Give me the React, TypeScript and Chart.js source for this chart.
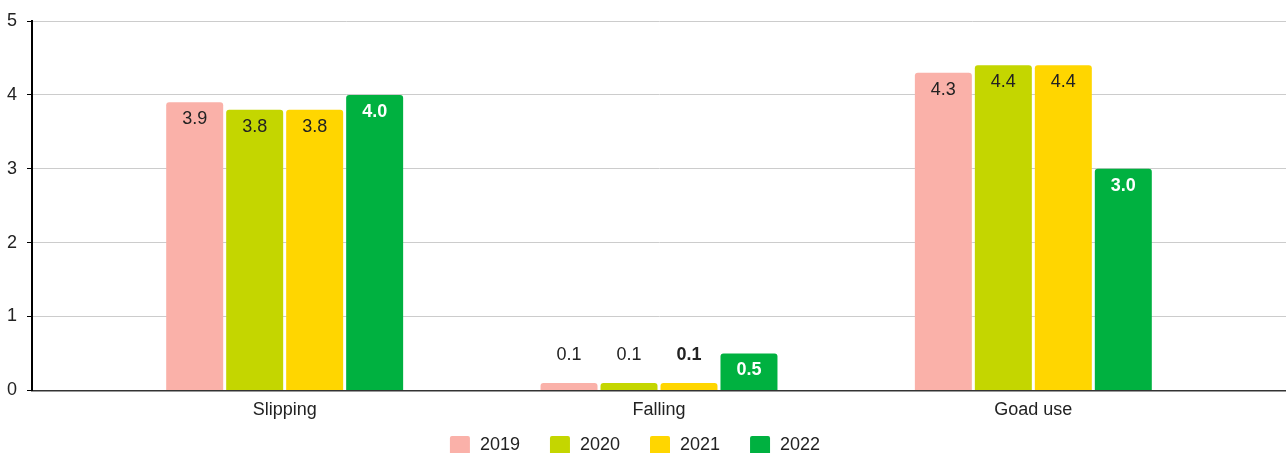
import { useEffect, useRef } from 'react';
import { Chart, registerables } from 'chart.js';

Chart.register(...registerables);

const CATEGORIES = ['Slipping', 'Falling', 'Goad use'];
const YEARS = ['2019', '2020', '2021', '2022'];
const VALUES_2019 = [3.9, 0.1, 4.3];
const VALUES_2020 = [3.8, 0.1, 4.4];
const VALUES_2021 = [3.8, 0.1, 4.4];
const VALUES_2022 = [4.0, 0.5, 3.0];
const Y_TICKS = [0, 1, 2, 3, 4, 5];

const SERIES = [VALUES_2019, VALUES_2020, VALUES_2021, VALUES_2022];
const COLORS = ['#FAB1A9', '#C4D600', '#FFD600', '#00B140'];
const LABEL_COLORS = ['#222222', '#222222', '#222222', '#ffffff'];
const LABEL_BOLD = [
  [false, false, false],
  [false, false, false],
  [false, true, false],
  [true, true, true],
];
const FONT = "'Liberation Sans', Arial, sans-serif";
const TEXT = '#222222';

const barLabels = {
  id: 'barLabels',
  afterDatasetsDraw(chart: any) {
    const ctx = chart.ctx;
    chart.data.datasets.forEach((ds: any, di: number) => {
      const meta = chart.getDatasetMeta(di);
      meta.data.forEach((bar: any, i: number) => {
        const v = ds.data[i] as number;
        const { x, y, base } = bar.getProps(['x', 'y', 'base'], true);
        const inside = base - y > 30;
        ctx.save();
        ctx.font = `${LABEL_BOLD[di][i] ? 'bold ' : ''}18px ${FONT}`;
        ctx.fillStyle = inside ? LABEL_COLORS[di] : TEXT;
        ctx.textAlign = 'center';
        ctx.textBaseline = 'middle';
        ctx.fillText(v.toFixed(1), x, inside ? y + 17 : y - 28);
        ctx.restore();
      });
    });
  },
};

const customLegend = {
  id: 'customLegend',
  afterDraw(chart: any) {
    const ctx = chart.ctx;
    ctx.save();
    ctx.font = `18px ${FONT}`;
    const box = 20;
    const gap = 10;
    const spacing = 30;
    const widths = YEARS.map((t) => box + gap + ctx.measureText(t).width);
    const total = widths.reduce((a, b) => a + b, 0) + spacing * (YEARS.length - 1);
    let x = chart.width / 2 - total / 2 - 8;
    const top = chart.height - 17;
    YEARS.forEach((t, i) => {
      ctx.fillStyle = COLORS[i];
      ctx.beginPath();
      ctx.roundRect(x, top, box, box, 2);
      ctx.fill();
      ctx.fillStyle = TEXT;
      ctx.textAlign = 'left';
      ctx.textBaseline = 'alphabetic';
      ctx.fillText(t, x + box + gap, top + 14);
      x += widths[i] + spacing;
    });
    ctx.restore();
  },
};

export default function App() {
  const ref = useRef<HTMLCanvasElement>(null);

  useEffect(() => {
    document.body.style.margin = '0';
    document.body.style.overflow = 'hidden';
    if (!ref.current) return;
    const chart = new Chart(ref.current, {
      type: 'bar',
      data: {
        labels: CATEGORIES.map((_, i) => i),
        datasets: YEARS.map((year, di) => ({
          label: year,
          data: SERIES[di],
          backgroundColor: COLORS[di],
          borderRadius: 3,
          borderSkipped: 'start',
          categoryPercentage: 0.641,
          barPercentage: 0.95,
        })),
      },
      options: {
        responsive: false,
        animation: false,
        layout: { padding: { top: 21, left: 7, right: 0, bottom: 23 } },
        plugins: {
          legend: { display: false },
          tooltip: { enabled: false },
          title: { display: false },
        },
        scales: {
          x: {
            type: 'linear',
            min: -0.675,
            max: 2.675,
            offset: false,
            afterBuildTicks: (axis: any) => {
              axis.ticks = CATEGORIES.map((_, i) => ({ value: i }));
            },
            ticks: {
              padding: 9,
              maxRotation: 0,
              autoSkip: false,
              color: TEXT,
              font: { family: FONT, size: 18 },
              callback: (v: any) => CATEGORIES[v as number] ?? '',
            },
            grid: { display: false, drawTicks: false, offset: false },
            border: { color: '#333333', width: 1.5 },
          },
          y: {
            min: 0,
            max: 5,
            afterBuildTicks: (axis: any) => {
              axis.ticks = Y_TICKS.map((v) => ({ value: v }));
            },
            afterFit: (axis: any) => {
              axis.width = 25;
            },
            ticks: {
              padding: 10,
              color: TEXT,
              font: { family: FONT, size: 18 },
            },
            grid: { color: '#cccccc', tickColor: '#000000', tickLength: 5, lineWidth: 1 },
            border: { color: '#000000', width: 2 },
          },
        },
      },
      plugins: [barLabels, customLegend],
    } as any);
    return () => chart.destroy();
  }, []);

  return <canvas ref={ref} width={1286} height={453} style={{ display: 'block' }} />;
}
